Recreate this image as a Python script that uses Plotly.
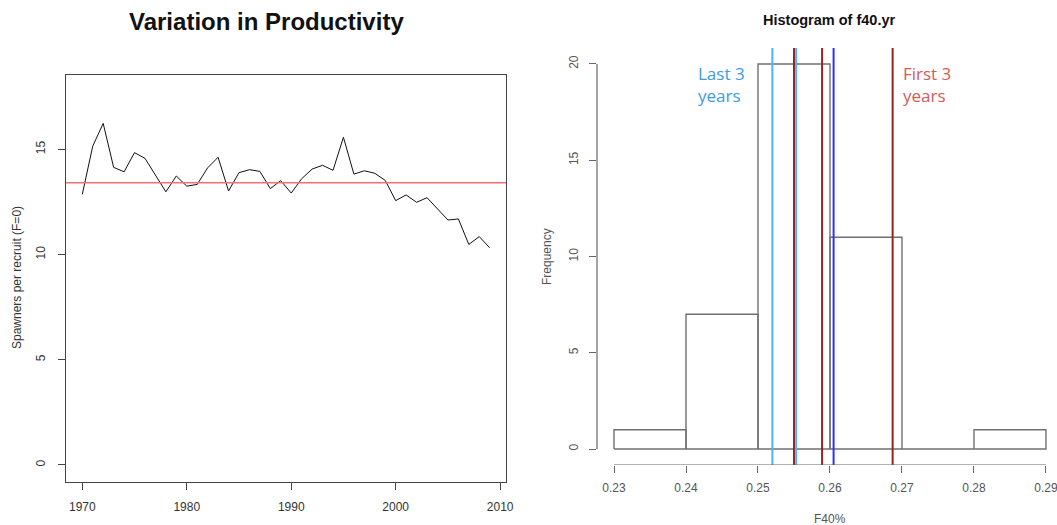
import plotly.graph_objects as go

# ---- data -------------------------------------------------------------
years = list(range(1970, 2010))
spr = [12.86, 15.15, 16.23, 14.14, 13.93, 14.84, 14.57, 13.76, 12.98, 13.73,
       13.25, 13.33, 14.12, 14.62, 13.02, 13.89, 14.03, 13.95, 13.13, 13.51,
       12.92, 13.60, 14.06, 14.24, 14.00, 15.57, 13.82, 13.98, 13.86, 13.52,
       12.56, 12.83, 12.48, 12.70, 12.18, 11.64, 11.69, 10.48, 10.85, 10.32]
spr_mean = 13.41

bin_edges = [0.23, 0.24, 0.25, 0.26, 0.27, 0.28, 0.29]
bin_counts = [1, 7, 20, 11, 0, 1]

first3_f40 = [0.2550, 0.2589, 0.2687]
last3_f40 = [0.2520, 0.2553]
last_f40 = 0.2605

x_ticks_hist = [0.23, 0.24, 0.25, 0.26, 0.27, 0.28, 0.29]
x_ticks_years = [1970, 1980, 1990, 2000, 2010]
y_ticks_spr = [0, 5, 10, 15]
y_ticks_freq = [0, 5, 10, 15, 20]

# ---- geometry ---------------------------------------------------------
W, H = 1057, 525
FONT = "Liberation Sans, Arial, sans-serif"


def fx(px):
    return px / W


def fy(py):
    return 1 - py / H


fig = go.Figure()

# left panel: productivity series
fig.add_trace(go.Scatter(x=years, y=spr, mode="lines",
                         line=dict(color="#111111", width=1),
                         xaxis="x", yaxis="y", hoverinfo="skip"))
fig.add_shape(type="line", xref="x domain", yref="y", x0=0, x1=1,
              y0=spr_mean, y1=spr_mean, line=dict(color="#f07070", width=1.3))

# right panel: histogram outline
hx, hy = [], []
for i, c in enumerate(bin_counts):
    x0, x1 = bin_edges[i], bin_edges[i + 1]
    hx += [x0, x0, x1, x1, x0, None]
    hy += [0, c, c, 0, 0, None]
fig.add_trace(go.Scatter(x=hx, y=hy, mode="lines",
                         line=dict(color="#707070", width=1.4),
                         xaxis="x2", yaxis="y2", hoverinfo="skip"))

# reference lines for first / last years
for v in last3_f40:
    fig.add_shape(type="line", xref="x2", yref="y2 domain", x0=v, x1=v, y0=0, y1=1,
                  line=dict(color="#4db2fa", width=2))
for v in first3_f40:
    fig.add_shape(type="line", xref="x2", yref="y2 domain", x0=v, x1=v, y0=0, y1=1,
                  line=dict(color="#992222", width=2))
fig.add_shape(type="line", xref="x2", yref="y2 domain", x0=last_f40, x1=last_f40,
              y0=0, y1=1, line=dict(color="#3030ff", width=2))

# R-style axis lines spanning only the tick range
fig.add_shape(type="line", xref="x2", yref="y2",
              x0=x_ticks_hist[0], x1=x_ticks_hist[-1], y0=-0.83, y1=-0.83,
              line=dict(color="#666666", width=1.2))
fig.add_shape(type="line", xref="x2 domain", yref="y2",
              x0=0, x1=0, y0=y_ticks_freq[0], y1=y_ticks_freq[-1],
              line=dict(color="#666666", width=1.2))

tickfont = dict(family=FONT, size=12, color="#333333")
fig.update_layout(
    width=W, height=H,
    margin=dict(l=0, r=0, t=0, b=0),
    paper_bgcolor="white", plot_bgcolor="white",
    showlegend=False,
    xaxis=dict(domain=[fx(66), fx(506)], range=[1968.44, 2010.56],
               tickvals=x_ticks_years, ticks="outside", ticklen=7,
               tickcolor="#444444", showline=True, linecolor="#444444",
               linewidth=1.2, mirror=True, showgrid=False, zeroline=False,
               tickfont=tickfont, ticklabelstandoff=6, anchor="y",
               automargin=False),
    yaxis=dict(domain=[fy(482), fy(75)], range=[-0.81, 18.53],
               tickvals=y_ticks_spr, ticks="outside", ticklen=7,
               tickcolor="#444444", showline=True, linecolor="#444444",
               linewidth=1.2, mirror=True, showgrid=False, zeroline=False,
               tickangle=-90, tickfont=tickfont, ticklabelstandoff=8,
               anchor="x", automargin=False),
    xaxis2=dict(domain=[fx(597), 1], range=[0.227639, 0.29153],
                tickvals=x_ticks_hist,
                ticktext=[f"{v:.2f}" for v in x_ticks_hist],
                ticks="outside", ticklen=7, tickcolor="#666666",
                showline=False, showgrid=False, zeroline=False,
                tickfont=dict(family=FONT, size=12, color="#555555"),
                ticklabelstandoff=5, ticklabeloverflow="allow",
                anchor="y2", automargin=False),
    yaxis2=dict(domain=[fy(465), fy(48)], range=[-0.83, 20.83],
                tickvals=y_ticks_freq, ticks="outside", ticklen=7,
                tickcolor="#666666", showline=False, showgrid=False,
                zeroline=False, tickangle=-90,
                tickfont=dict(family=FONT, size=12, color="#555555"),
                ticklabelstandoff=6, anchor="x2", automargin=False),
)

annotations = [
    dict(text="<b>Variation in Productivity</b>", x=fx(266), y=fy(22),
         font=dict(family=FONT, size=24, color="#111111")),
    dict(text="Spawners per recruit (F=0)", x=fx(17), y=fy(278), textangle=-90,
         font=dict(family=FONT, size=12, color="#333333")),
    dict(text="<b>Histogram of f40.yr</b>", x=fx(829), y=fy(20),
         font=dict(family=FONT, size=14.5, color="#111111")),
    dict(text="Frequency", x=fx(547), y=fy(257), textangle=-90,
         font=dict(family=FONT, size=12, color="#555555")),
    dict(text="F40%", x=fx(830), y=fy(519),
         font=dict(family=FONT, size=12, color="#555555")),
]
for a in annotations:
    a.update(xref="paper", yref="paper", showarrow=False,
             xanchor="center", yanchor="middle")
    fig.add_annotation(**a)

fig.add_annotation(text="Last 3<br>years", xref="paper", yref="paper",
                   x=fx(696), y=fy(60), xanchor="left", yanchor="top",
                   align="left", showarrow=False,
                   font=dict(family="Open Sans, sans-serif", size=17, color="#3d9be6"))
fig.add_annotation(text="First 3<br>years", xref="paper", yref="paper",
                   x=fx(901), y=fy(60), xanchor="left", yanchor="top",
                   align="left", showarrow=False,
                   font=dict(family="Open Sans, sans-serif", size=17, color="#d45a5a"))

fig.write_html("out.html")
